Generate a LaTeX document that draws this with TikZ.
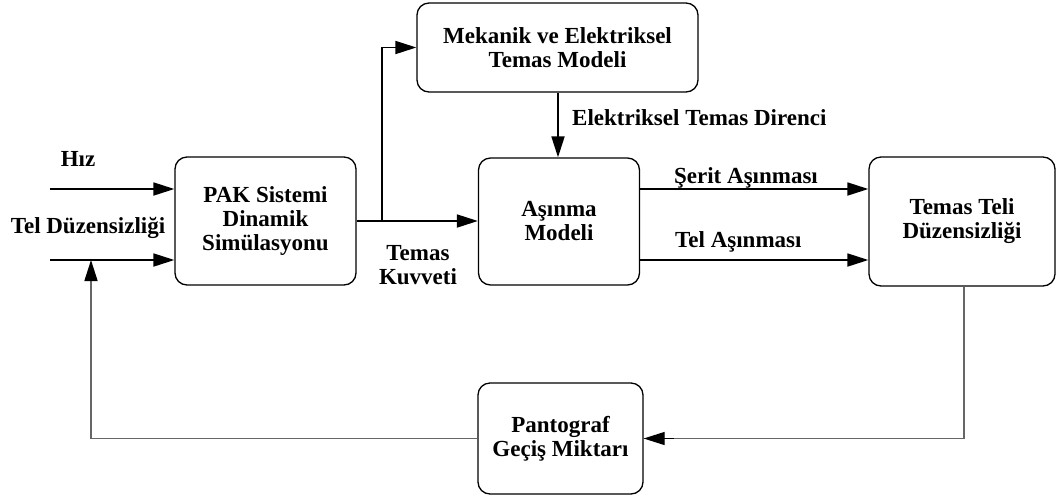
\documentclass[tikz,border=0pt]{standalone}
\usepackage{fontspec}
\setmainfont{Liberation Serif}
\usetikzlibrary{arrows.meta}
\begin{document}
\begin{tikzpicture}[x=1pt,y=-1pt,
  font=\fontsize{23}{24}\selectfont\bfseries,
  blok/.style={draw=black,line width=1.3pt,rounded corners=12pt,align=center,inner sep=0pt},
  ucb/.style={-{Triangle[length=21pt,width=13pt,color=black]}},
  ok/.style={line width=1.8pt,ucb},
  geri/.style={draw=black!60,line width=1.6pt},
  etiket/.style={inner sep=0pt,align=center}]
\useasboundingbox (0,0) rectangle (1057,499);

% blocks
\node[blok,minimum width=181pt,minimum height=128pt] (pak) at (265.5,221) {PAK Sistemi\\Dinamik\\Simülasyonu};
\node[blok,minimum width=281pt,minimum height=89pt] (mek) at (557.5,47.5) {Mekanik ve Elektriksel\\Temas Modeli};
\node[blok,minimum width=161pt,minimum height=127pt] (asn) at (559,221.5) {Aşınma\\Modeli};
\node[blok,minimum width=186pt,minimum height=129pt] (tel) at (962,221.5) {Temas Teli\\Düzensizliği};
\node[blok,minimum width=165pt,minimum height=111pt] (pan) at (560.5,438.5) {Pantograf\\Geçiş Miktarı};

% free ends of the inputs and branch points
\coordinate (hin) at (50,189);
\coordinate (tin) at (50,260);
\coordinate (dal) at (382,221);
\coordinate (fbu) at (91,260);
\coordinate (fba) at (91,290);

% inputs
\draw[ok] (hin) -- (pak.west |- hin);
\draw[ok] (tin) -- (pak.west |- tin);
\node[etiket] (lhiz) at (78,159) {Hız};
\node[etiket] (ltel) at (88,228) {Tel Düzensizliği};

% forward path
\draw[ok] (pak.east |- dal) -- (asn.west |- dal);
\draw[ok] (dal) |- (mek.west);
\draw[ok] (mek.south -| 558,0) -- (asn.north -| 558,0);
\node[etiket] (lkuv) at (418,265) {Temas\\Kuvveti};
\node[etiket,anchor=west] (ldir) at (572,118) {Elektriksel Temas Direnci};

\coordinate (s1) at (0,189);
\coordinate (s2) at (0,260);
\draw[ok] (asn.east |- s1) -- (tel.west |- s1);
\draw[ok] (asn.east |- s2) -- (tel.west |- s2);
\node[etiket] (lser) at (746,178) {Şerit Aşınması};
\node[etiket,anchor=west] (ltas) at (675,242) {Tel Aşınması};

% feedback loop
\draw[geri] (tel.south -| 964,0) |- (pan.east);
\draw[ucb,line width=1.3pt] ([xshift=30pt]pan.east) -- (pan.east);
\draw[geri] (pan.west) -| (fba);
\draw[geri,ucb] (fba) -- (fbu);
\end{tikzpicture}
\end{document}
